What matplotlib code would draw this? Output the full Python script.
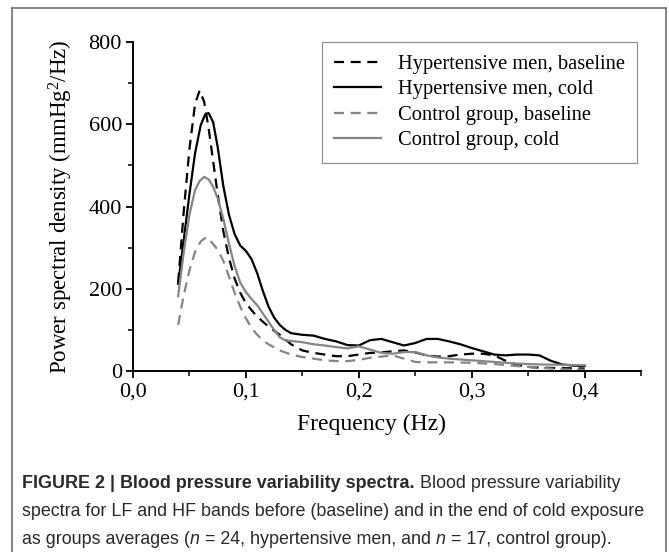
import matplotlib
matplotlib.use("Agg")
import matplotlib.pyplot as plt
from matplotlib.lines import Line2D
from matplotlib.ticker import MultipleLocator, FuncFormatter

# values
f_hyp_base = [0.040, 0.045, 0.050, 0.055, 0.059, 0.063, 0.067, 0.071, 0.075, 0.080, 0.085,
              0.090, 0.095, 0.100, 0.105, 0.110, 0.120, 0.130, 0.140, 0.150, 0.160, 0.170,
              0.180, 0.190, 0.200, 0.210, 0.220, 0.230, 0.240, 0.250, 0.260, 0.270, 0.280,
              0.290, 0.300, 0.310, 0.320, 0.330, 0.340, 0.350, 0.360, 0.380, 0.400]
psd_hyp_base = [215, 390, 540, 650, 682, 655, 590, 510, 430, 340, 275,
                225, 190, 165, 148, 132, 108, 88, 65, 50, 44, 40,
                36, 36, 40, 44, 45, 48, 50, 45, 38, 35, 36,
                40, 42, 42, 38, 25, 15, 10, 8, 7, 6]

f_hyp_cold = [0.040, 0.045, 0.050, 0.055, 0.060, 0.064, 0.067, 0.071, 0.075, 0.080, 0.085,
              0.090, 0.095, 0.100, 0.105, 0.110, 0.115, 0.120, 0.125, 0.130, 0.135, 0.140,
              0.150, 0.160, 0.170, 0.180, 0.190, 0.200, 0.210, 0.220, 0.230, 0.240, 0.250,
              0.260, 0.270, 0.280, 0.290, 0.300, 0.310, 0.320, 0.330, 0.340, 0.350, 0.360,
              0.370, 0.380, 0.390, 0.400]
psd_hyp_cold = [212, 320, 430, 530, 598, 624, 627, 605, 545, 450, 380,
                333, 305, 292, 272, 238, 195, 157, 130, 112, 100, 92,
                88, 86, 78, 72, 63, 62, 75, 78, 70, 62, 68,
                78, 78, 72, 65, 56, 48, 40, 38, 40, 40, 38,
                25, 16, 13, 12]

f_ctl_base = [0.040, 0.045, 0.050, 0.055, 0.060, 0.065, 0.070, 0.075, 0.080, 0.085, 0.090,
              0.095, 0.100, 0.105, 0.110, 0.115, 0.120, 0.130, 0.140, 0.150, 0.160, 0.170,
              0.180, 0.190, 0.200, 0.210, 0.220, 0.230, 0.240, 0.250, 0.260, 0.280, 0.300,
              0.320, 0.340, 0.360, 0.380, 0.400]
psd_ctl_base = [112, 185, 245, 290, 315, 326, 312, 295, 268, 230, 190,
                156, 128, 105, 88, 75, 65, 50, 40, 34, 30, 26,
                24, 24, 27, 32, 35, 38, 30, 22, 21, 21, 20,
                17, 12, 8, 4, 3]

f_ctl_cold = [0.040, 0.045, 0.050, 0.055, 0.059, 0.063, 0.067, 0.071, 0.075, 0.080, 0.085,
              0.090, 0.095, 0.100, 0.105, 0.110, 0.115, 0.120, 0.125, 0.130, 0.135, 0.140,
              0.150, 0.160, 0.170, 0.180, 0.190, 0.200, 0.210, 0.220, 0.230, 0.240, 0.250,
              0.260, 0.270, 0.280, 0.290, 0.300, 0.320, 0.340, 0.360, 0.380, 0.400]
psd_ctl_cold = [182, 290, 380, 440, 462, 472, 466, 448, 420, 370, 310,
                255, 215, 192, 175, 160, 140, 120, 100, 82, 74, 73,
                70, 65, 62, 58, 55, 60, 52, 44, 42, 46, 46,
                38, 33, 30, 28, 26, 22, 18, 16, 15, 14]

labels = ["Hypertensive men, baseline", "Hypertensive men, cold",
          "Control group, baseline", "Control group, cold"]

serif = "Liberation Serif"
plt.rcParams["font.family"] = serif
plt.rcParams["mathtext.fontset"] = "custom"
plt.rcParams["mathtext.rm"] = serif
plt.rcParams["mathtext.it"] = serif + ":italic"

fig = plt.figure(figsize=(6.69, 5.52), dpi=100)
ax = fig.add_axes([133 / 669, 1 - 371 / 552, 508 / 669, 329 / 552])

dash = (0, (4.5, 3))
gray = "#858585"
ax.plot(f_hyp_base, psd_hyp_base, color="black", lw=1.6, ls=dash, label=labels[0])
ax.plot(f_hyp_cold, psd_hyp_cold, color="black", lw=1.6, label=labels[1])
ax.plot(f_ctl_base, psd_ctl_base, color=gray, lw=1.6, ls=dash, label=labels[2])
ax.plot(f_ctl_cold, psd_ctl_cold, color=gray, lw=1.6, label=labels[3])

ax.set_xlim(0, 0.45)
ax.set_ylim(0, 800)
for side in ["top", "right"]:
    ax.spines[side].set_visible(False)
for side in ["left", "bottom"]:
    ax.spines[side].set_linewidth(1.4)

ax.xaxis.set_major_locator(MultipleLocator(0.1))
ax.xaxis.set_minor_locator(MultipleLocator(0.05))
ax.yaxis.set_major_locator(MultipleLocator(200))
ax.yaxis.set_minor_locator(MultipleLocator(100))
ax.xaxis.set_major_formatter(FuncFormatter(lambda v, p: f"{v:.1f}".replace(".", ",")))
ax.tick_params(which="major", direction="out", length=5, width=1.3, labelsize=16, pad=3)
ax.tick_params(which="minor", direction="out", length=3.5, width=1.1)

ax.set_xlabel("Frequency (Hz)", fontsize=17)
ax.xaxis.set_label_coords(0.47, -0.13)
ax.set_ylabel("Power spectral density (mmHg$^2$/Hz)", fontsize=16.5)
ax.yaxis.set_label_coords(-0.114, 0.5)

leg = ax.legend(loc="upper right", fontsize=14.8, frameon=True, fancybox=False,
                edgecolor="#777777", handlelength=2.3, handletextpad=0.8,
                labelspacing=0.3, borderpad=0.6, borderaxespad=0.0,
                bbox_to_anchor=(0.992, 1.0))
leg.get_frame().set_linewidth(0.9)

# outer figure box
box = dict(color="#707070", lw=1.2, transform=fig.transFigure)
fig.add_artist(Line2D([12 / 669, 12 / 669], [0, 1 - 8 / 552], **box))
fig.add_artist(Line2D([666 / 669, 666 / 669], [0, 1 - 8 / 552], **box))
fig.add_artist(Line2D([12 / 669, 666 / 669], [1 - 8 / 552, 1 - 8 / 552], **box))

# caption, written as runs of text
sans = "Liberation Sans"
cap_size = 12.9
renderer = fig.canvas.get_renderer()


def text_runs(x, y, parts):
    for txt, kw in parts:
        t = fig.text(x, y, txt, fontsize=cap_size, family=sans, color="#2a2a2a",
                     va="baseline", **kw)
        x += t.get_window_extent(renderer).width / fig.bbox.width


left = 22 / 669
text_runs(left, 1 - 488 / 552, [
    ("FIGURE 2 | Blood pressure variability spectra.", dict(weight="bold")),
    (" Blood pressure variability", {}),
])
text_runs(left, 1 - 516 / 552, [
    ("spectra for LF and HF bands before (baseline) and in the end of cold exposure", {}),
])
text_runs(left, 1 - 544 / 552, [
    ("as groups averages (", {}),
    ("n", dict(style="italic")),
    (" = 24, hypertensive men, and ", {}),
    ("n", dict(style="italic")),
    (" = 17, control group).", {}),
])

fig.savefig("out.png", dpi=100)
